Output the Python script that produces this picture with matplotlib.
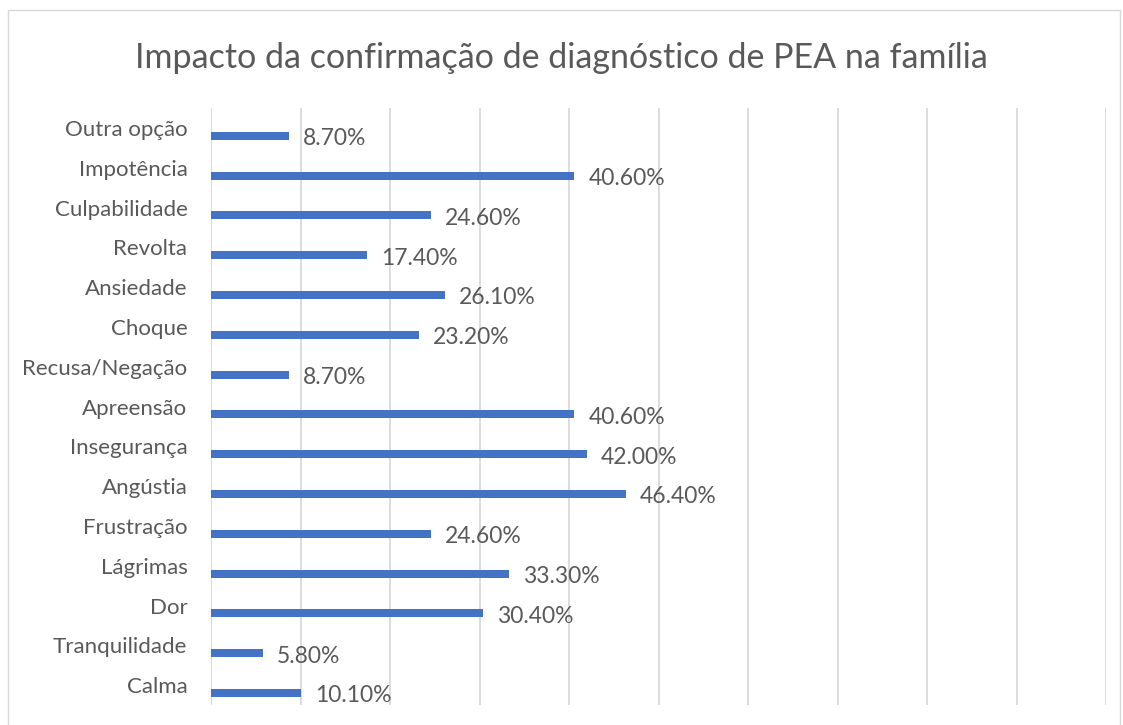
import matplotlib.pyplot as plt
from matplotlib.patches import Rectangle
import numpy as np

categorias = ['Calma', 'Tranquilidade', 'Dor', 'Lágrimas', 'Frustração', 'Angústia',
              'Insegurança', 'Apreensão', 'Recusa/Negação', 'Choque', 'Ansiedade',
              'Revolta', 'Culpabilidade', 'Impotência', 'Outra opção']
valores = [10.1, 5.8, 30.4, 33.3, 24.6, 46.4, 42.0, 40.6, 8.7, 23.2, 26.1, 17.4, 24.6, 40.6, 8.7]

plt.rcParams['font.family'] = ['Lato', 'DejaVu Sans']
cor_texto = '#595959'

fig = plt.figure(figsize=(11.23, 7.25), dpi=100)
ax = fig.add_axes([211/1123, 20/725, 895/1123, 597/725])

y = np.arange(len(categorias))
ax.barh(y - 0.2, valores, height=0.2, color='#4472C4', zorder=3)

for yi, v in zip(y, valores):
    ax.annotate(f'{v:.2f}%', (v, yi - 0.2), xytext=(10, -2), textcoords='offset points',
                va='center', ha='left', fontsize=16.5, color=cor_texto)

ax.set_xlim(0, 100)
ax.set_ylim(-0.5, len(categorias) - 0.5)
ax.set_xticks(np.arange(0, 101, 10))
ax.set_xticklabels([])
ax.set_yticks(y)
ax.set_yticklabels(categorias, fontsize=16, color=cor_texto)
ax.tick_params(axis='both', length=0)
ax.tick_params(axis='y', pad=17)
ax.grid(axis='x', color='#D9D9D9', linewidth=1.3, zorder=0)
for s in ax.spines.values():
    s.set_visible(False)

fig.text(0.5, 1 - 58/725, 'Impacto da confirmação de diagnóstico de PEA na família',
         ha='center', va='center', fontsize=24.5, color=cor_texto)

fig.patches.append(Rectangle((8/1123, -0.1), 1112/1123, 1 - 10/725 + 0.1, transform=fig.transFigure,
                             fill=False, edgecolor='#D9D9D9', linewidth=1))

fig.savefig('out.png', dpi=100)
